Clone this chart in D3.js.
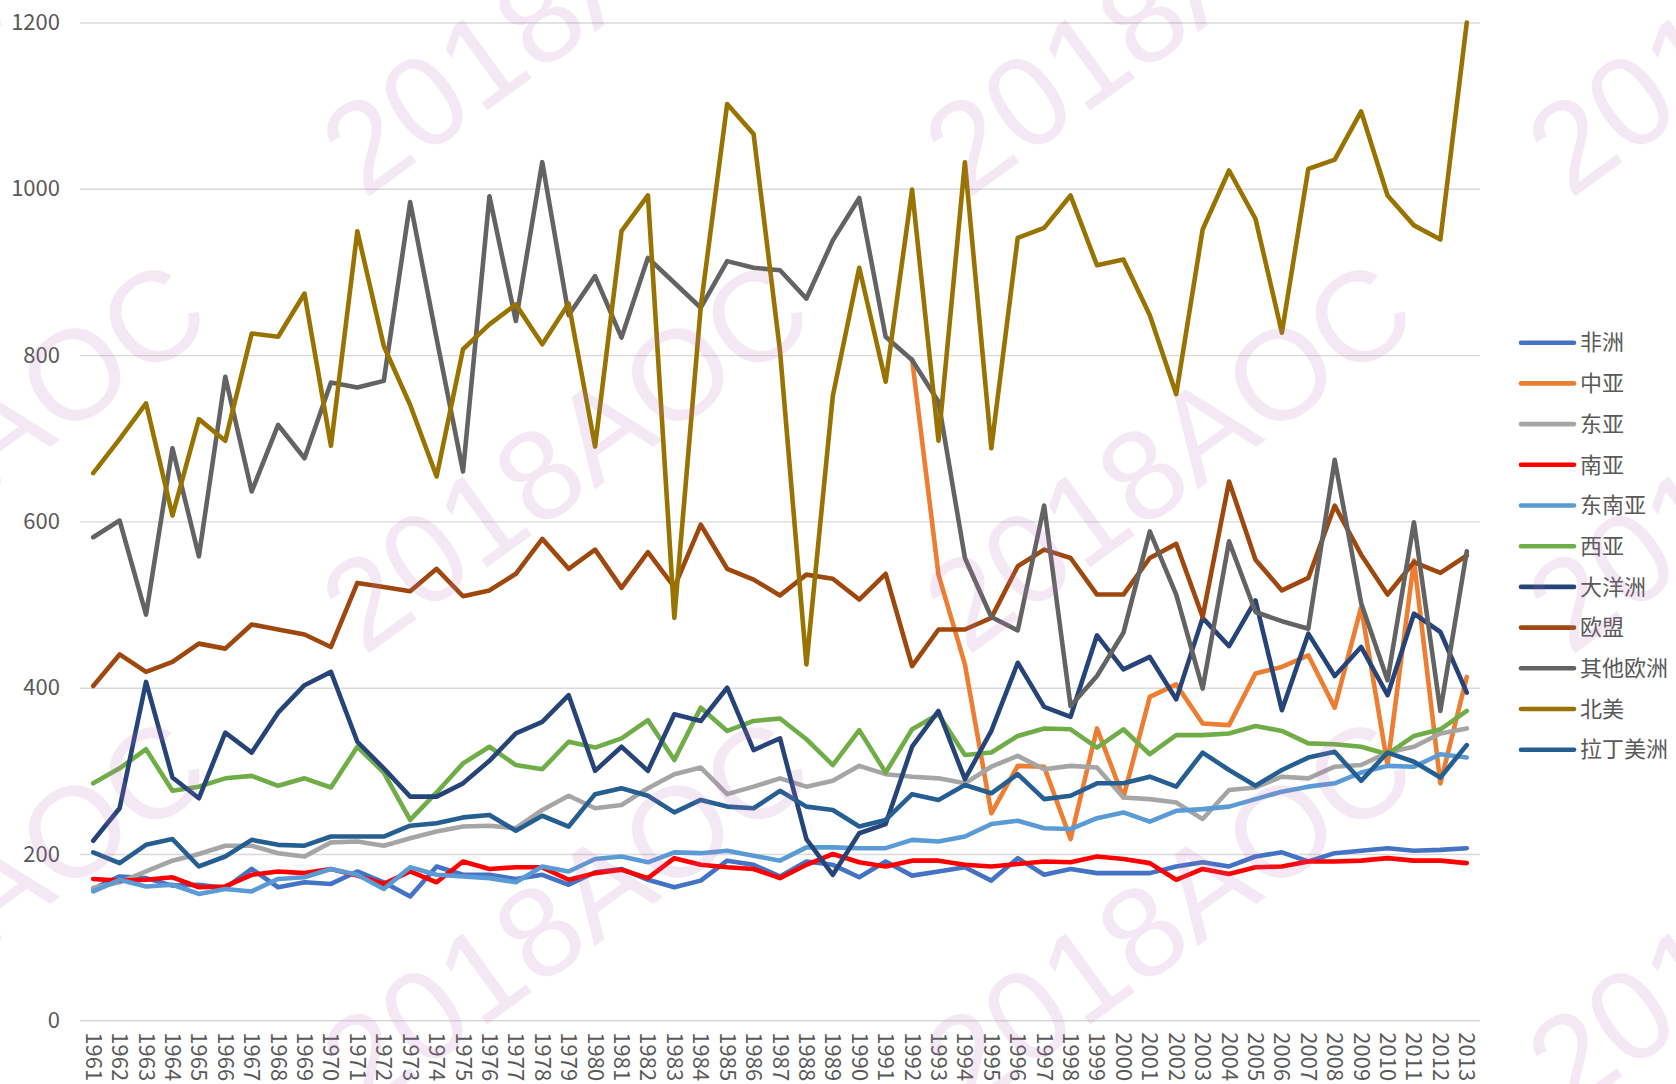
<!DOCTYPE html>
<html>
<head>
<meta charset="utf-8">
<script src="https://cdn.jsdelivr.net/npm/d3@7/dist/d3.min.js"></script>
<style>
  html, body { margin: 0; padding: 0; background: #ffffff; }
  svg { display: block; }
</style>
</head>
<body>
<svg id="chart" width="1676" height="1084"></svg>
<script>
const years = d3.range(1961, 2014).map(String);
const seriesNames = ["非洲", "中亚", "东亚", "南亚", "东南亚", "西亚", "大洋洲", "欧盟", "其他欧洲", "北美", "拉丁美洲"];
const seriesColors = ["#4472C4", "#ED7D31", "#A5A5A5", "#FF0000", "#5B9BD5", "#70AD47", "#264478", "#9E480E", "#636363", "#997300", "#255E91"];
const yTicks = [0, 200, 400, 600, 800, 1000, 1200];

const africa = [158,173,171,162,163,159,182,160,166,164, 179,166,149,185,175,175,170,175,163,178, 182,169,160,168,192,187,173,191,187,172, 191,174,179,184,168,195,175,182,177,177, 177,185,190,185,197,202,191,201,204,207, 204,205,207];
const centralAsia = [null,null,null,null,null,null,null,null,null,null, null,null,null,null,null,null,null,null,null,null, null,null,null,null,null,null,null,null,null,null, null,795,536,428,249,306,305,218,351,268, 389,404,357,355,417,425,439,376,497,307, 553,285,413];
const eastAsia = [159,166,179,192,200,210,210,201,197,214, 215,210,219,227,233,234,231,253,270,255, 259,279,296,304,272,281,291,281,288,306, 296,293,291,285,305,318,302,306,304,268, 266,262,242,277,280,293,291,305,307,322, 329,345,351];
const southAsia = [170,168,169,172,160,161,175,179,177,182, 174,164,179,166,191,182,184,184,169,177, 181,171,195,187,184,182,171,187,200,190, 185,192,192,187,185,188,191,190,197,194, 189,169,182,176,184,185,191,191,192,195, 192,192,189];
const seAsia = [155,169,161,163,152,158,155,170,172,182, 175,158,184,175,173,171,166,185,179,194, 197,190,202,201,204,198,192,208,208,207, 207,217,215,221,236,240,231,230,243,250, 239,252,254,257,266,275,281,285,298,306, 305,320,316];
const westAsia = [285,303,326,276,281,291,294,282,291,280, 329,298,241,274,309,329,307,302,335,328, 339,361,313,376,348,360,363,338,307,349, 298,350,368,319,322,342,351,350,328,350, 320,343,343,345,354,348,333,332,329,320, 342,350,372];
const oceania = [216,255,407,292,267,346,322,370,403,419, 335,303,269,269,285,312,345,359,391,300, 329,300,368,360,400,325,339,218,175,225, 236,329,372,290,348,430,377,365,463,422, 437,386,484,450,505,373,465,414,449,391, 489,467,394];
const eu = [402,440,419,431,453,447,476,470,464,449, 526,521,516,543,510,517,537,579,543,566, 520,563,521,596,543,530,511,536,531,506, 537,426,470,470,484,546,566,556,512,512, 556,573,485,648,554,517,532,619,560,512, 551,538,559];
const otherEurope = [581,601,488,688,558,774,636,716,676,767, 761,769,984,820,660,991,841,1032,848,895, 821,917,887,857,913,905,902,868,938,989, 822,794,744,556,485,469,619,378,414,466, 588,512,399,576,491,480,471,674,502,409, 599,372,564];
const northAmerica = [658,699,742,607,723,697,826,822,874,691, 949,811,740,654,807,837,861,813,862,690, 949,992,484,858,1102,1066,805,428,751,905, 768,999,697,1032,688,941,953,992,908,915, 848,753,951,1022,964,827,1024,1035,1093,992, 956,939,1200];
const latinAmerica = [202,189,211,218,185,197,217,211,210,221, 221,221,234,237,244,247,228,246,233,272, 279,270,250,265,257,255,276,257,253,233, 241,272,265,283,273,296,266,270,285,285, 293,281,322,301,282,301,316,323,288,322, 311,292,331];

const seriesValues = [africa, centralAsia, eastAsia, southAsia, seAsia, westAsia, oceania, eu, otherEurope, northAmerica, latinAmerica];

const svg = d3.select("#chart");
svg.append("rect").attr("width", 1676).attr("height", 1084).attr("fill", "#ffffff");

const plotLeft = 80, plotRight = 1480, plotTop = 22.5, plotBottom = 1020.3;
const x = d3.scalePoint().domain(years).range([plotLeft, plotRight]).padding(0.5);
const y = d3.scaleLinear().domain([0, 1200]).range([plotBottom, plotTop]);

const textColor = "#595959";
const fontFam = "'Noto Sans CJK SC', 'Noto Sans', sans-serif";

// gridlines + y labels
const yAxis = d3.axisLeft(y).tickValues(yTicks).tickSize(-(plotRight - plotLeft)).tickPadding(20).tickFormat(d3.format("d"));
const gy = svg.append("g").attr("transform", `translate(${plotLeft},0)`).call(yAxis);
gy.select(".domain").remove();
gy.selectAll(".tick line").attr("stroke", "#D9D9D9").attr("stroke-width", 1.4);
gy.selectAll(".tick text").attr("fill", textColor).style("font-family", fontFam).style("font-size", "22px");

// x labels
const xAxis = d3.axisBottom(x).tickSize(0).tickPadding(0);
const gx = svg.append("g").attr("transform", `translate(0,${plotBottom})`).call(xAxis);
gx.select(".domain").remove();
gx.selectAll(".tick text")
  .attr("fill", textColor)
  .style("font-family", fontFam)
  .style("font-size", "22px")
  .attr("text-anchor", "start")
  .attr("dy", null)
  .attr("y", 0)
  .attr("transform", "translate(-8,12) rotate(90)");

// lines
const line = d3.line()
  .defined(d => d != null)
  .x((d, i) => x(years[i]))
  .y(d => y(d));

seriesValues.forEach((vals, si) => {
  svg.append("path")
    .datum(vals)
    .attr("fill", "none")
    .attr("stroke", seriesColors[si])
    .attr("stroke-width", 4.6)
    .attr("stroke-linejoin", "round")
    .attr("stroke-linecap", "round")
    .attr("d", line);
});

// legend
const legend = svg.append("g");
seriesNames.forEach((name, i) => {
  const ly = 342.7 + i * 40.7;
  legend.append("line")
    .attr("x1", 1521).attr("x2", 1574).attr("y1", ly).attr("y2", ly)
    .attr("stroke", seriesColors[i]).attr("stroke-width", 4.6).attr("stroke-linecap", "round");
  legend.append("text")
    .attr("x", 1580).attr("y", ly).attr("dy", "0.35em")
    .attr("fill", textColor)
    .style("font-family", fontFam).style("font-size", "22px")
    .text(name);
});

// watermark
const wm = svg.append("g").attr("pointer-events", "none");
for (let k = -1; k <= 2; k++) {
  for (let m = -1; m <= 2; m++) {
    const ax = 364 + 603 * k, ay = 200 + 457 * m;
    wm.append("text")
      .attr("transform", `translate(${ax},${ay}) rotate(-36)`)
      .attr("fill", "rgb(185,110,185)")
      .attr("fill-opacity", 0.16)
      .style("font-family", "'Liberation Sans', Arial, sans-serif")
      .style("font-size", "128px")
      .text("2018AOC");
  }
}
</script>
</body>
</html>
